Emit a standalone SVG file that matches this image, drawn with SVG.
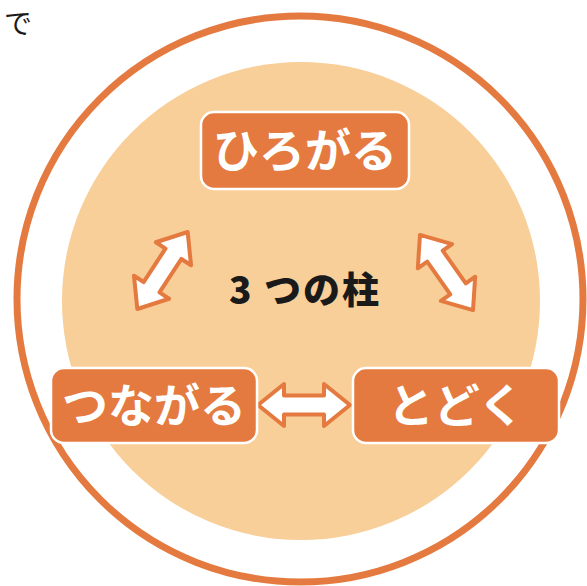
<svg xmlns="http://www.w3.org/2000/svg" width="587" height="586" viewBox="0 0 587 586">
<defs>
<style>
.box{fill:#E47A3F;stroke:#FFFFFF;stroke-width:2.5}
.lbl{font-family:"Noto Sans CJK JP","Noto Sans",sans-serif;font-weight:bold;font-size:46px;fill:#FFFFFF;text-anchor:middle}
.arr{fill:#FFFFFF;stroke:#E47A3F;stroke-width:4;stroke-linejoin:round}
</style>
<path id="dbl" d="M -46 0 L -20 -21 L -20 -9.5 L 20 -9.5 L 20 -21 L 46 0 L 20 21 L 20 9.5 L -20 9.5 L -20 21 Z"/>
</defs>
<rect width="587" height="586" fill="#FFFFFF"/>
<text x="4" y="34" font-family="'Noto Sans CJK JP',sans-serif" font-size="28" fill="#1a1a1a">で</text>
<circle cx="300" cy="299" r="283" fill="none" stroke="#E47A3F" stroke-width="7"/>
<circle cx="301" cy="301" r="239" fill="#F8CF98"/>
<text x="305" y="304" font-family="'Noto Sans CJK JP',sans-serif" font-weight="900" font-size="37" fill="#1a1a1a" text-anchor="middle" letter-spacing="2">3 つの柱</text>
<g id="connectors">
<use href="#dbl" class="arr" transform="translate(304 405)"/>
<use href="#dbl" class="arr" transform="translate(162.5 270.5) rotate(-56.8)"/>
<use href="#dbl" class="arr" transform="translate(446.5 272.5) rotate(54.8)"/>
</g>
<g id="hirogaru">
<rect class="box" x="201" y="112" width="208" height="77" rx="13"/>
<text class="lbl" x="305" y="167">ひろがる</text>
</g>
<g id="tsunagaru">
<rect class="box" x="51" y="368" width="206" height="75" rx="13"/>
<text class="lbl" x="154" y="422">つながる</text>
</g>
<g id="todoku">
<rect class="box" x="353" y="368" width="206" height="75" rx="13"/>
<text class="lbl" x="456" y="422">とどく</text>
</g>
</svg>
